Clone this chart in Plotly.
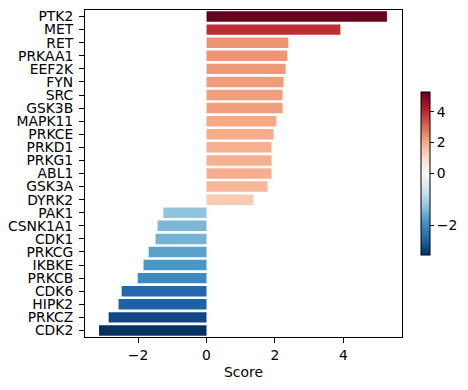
import plotly.graph_objects as go

kinases = ["PTK2", "MET", "RET", "PRKAA1", "EEF2K", "FYN", "SRC", "GSK3B", "MAPK11",
           "PRKCE", "PRKD1", "PRKG1", "ABL1", "GSK3A", "DYRK2", "PAK1", "CSNK1A1",
           "CDK1", "PRKCG", "IKBKE", "PRKCB", "CDK6", "HIPK2", "PRKCZ", "CDK2"]
scores = [5.27, 3.91, 2.39, 2.36, 2.31, 2.25, 2.22, 2.22, 2.04,
          1.96, 1.90, 1.90, 1.90, 1.78, 1.37, -1.26, -1.43,
          -1.49, -1.69, -1.84, -2.01, -2.48, -2.57, -2.86, -3.14]
cbar_ticks = [-2, 0, 2, 4]

rdbu_r = ['#053061', '#2166ac', '#4393c3', '#92c5de', '#d1e5f0', '#f7f7f7',
          '#fddbc7', '#f4a582', '#d6604d', '#b2182b', '#67001f']
colorscale = [[i / 10, c] for i, c in enumerate(rdbu_r)]

vmin, vmax = min(scores), max(scores)


def norm(v):
    if v < 0:
        return 0.5 * (v - vmin) / (0 - vmin)
    return 0.5 + 0.5 * v / vmax


cvals = [norm(v) for v in scores]
H, W = 390, 468
L, R, T, B = 85, 66, 10, 53
FS = 13.9

fig = go.Figure(go.Bar(
    x=scores, y=kinases, orientation="h",
    marker=dict(color=cvals, colorscale=colorscale, cmin=0, cmax=1, line_width=0,
                showscale=True,
                colorbar=dict(
                    x=1.061, xanchor="left", y=0.5, yanchor="middle",
                    xpad=0, ypad=0,
                    thickness=9, thicknessmode="pixels",
                    len=163, lenmode="pixels",
                    outlinewidth=1, outlinecolor="black",
                    tickvals=[norm(t) for t in cbar_ticks],
                    ticktext=[("−" + str(-t)) if t < 0 else str(t) for t in cbar_ticks],
                    ticks="outside", ticklen=4, tickcolor="black",
                    tickfont=dict(size=FS, color="black", family="DejaVu Sans"),
                )),
    hoverinfo="x+y",
))

fig.update_layout(
    width=W, height=H,
    margin=dict(l=L, r=R, t=T, b=B, autoexpand=False),
    plot_bgcolor="white", paper_bgcolor="white",
    bargap=0.2,
    font=dict(family="DejaVu Sans", size=FS, color="black"),
    showlegend=False,
)
fig.update_xaxes(
    range=[-3.55, 5.71], tickvals=[-2, 0, 2, 4],
    showgrid=False, zeroline=False, automargin=False,
    showline=True, linecolor="black", linewidth=1, mirror=True,
    ticks="outside", ticklen=5, tickcolor="black",
    title=dict(text="Score", standoff=5, font=dict(size=FS)),
    tickfont=dict(size=FS),
)
fig.update_yaxes(
    categoryorder="array", categoryarray=kinases,
    tickmode="array", tickvals=kinases, ticktext=kinases,
    range=[len(kinases) - 0.5, -0.5],
    showgrid=False, zeroline=False, automargin=False,
    showline=True, linecolor="black", linewidth=1, mirror=True,
    ticks="outside", ticklen=5, tickcolor="black", ticklabelstandoff=3,
    tickfont=dict(size=FS),
)

fig.write_html("out.html", config={"displayModeBar": False},
               post_script="document.body.style.margin='0';")
